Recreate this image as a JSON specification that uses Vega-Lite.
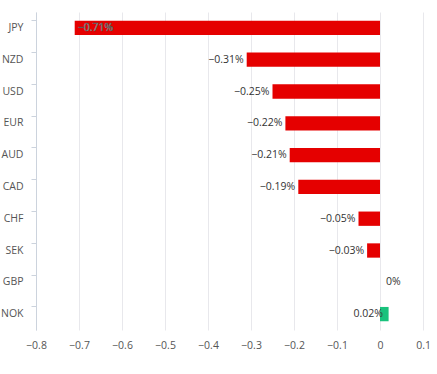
{
  "$schema": "https://vega.github.io/schema/vega-lite/v6.json",
  "autosize": {"type": "none"},
  "width": 387,
  "height": 318,
  "padding": {"left": 36, "top": 12, "right": 14, "bottom": 44},
  "config": {
    "font": "Open Sans",
    "view": {"stroke": null},
    "axis": {"labelFont": "Open Sans", "labelColor": "#555", "labelFontSize": 10.5}
  },
  "data": {
    "values": [
      {"currency": "JPY", "value": -0.71, "label": "−0.71%"},
      {"currency": "NZD", "value": -0.31, "label": "−0.31%"},
      {"currency": "USD", "value": -0.25, "label": "−0.25%"},
      {"currency": "EUR", "value": -0.22, "label": "−0.22%"},
      {"currency": "AUD", "value": -0.21, "label": "−0.21%"},
      {"currency": "CAD", "value": -0.19, "label": "−0.19%"},
      {"currency": "CHF", "value": -0.05, "label": "−0.05%"},
      {"currency": "SEK", "value": -0.03, "label": "−0.03%"},
      {"currency": "GBP", "value": 0, "label": "0%"},
      {"currency": "NOK", "value": 0.02, "label": "0.02%"}
    ]
  },
  "encoding": {
    "y": {
      "field": "currency", "type": "nominal", "title": null,
      "sort": ["JPY","NZD","USD","EUR","AUD","CAD","CHF","SEK","GBP","NOK"],
      "scale": {"paddingInner": 0.55, "paddingOuter": 0.275},
      "axis": {"domainColor": "#ccd3dd", "tickColor": "#ccd3dd", "tickSize": 5, "bandPosition": 0, "labelPadding": 8, "grid": false}
    }
  },
  "layer": [
    {
      "mark": {"type": "bar"},
      "encoding": {
        "x": {
          "field": "value", "type": "quantitative", "title": null,
          "scale": {"domain": [-0.8, 0.1], "nice": false, "zero": false},
          "axis": {"values": [-0.8,-0.7,-0.6,-0.5,-0.4,-0.3,-0.2,-0.1,0,0.1], "domain": false, "ticks": false, "labelFlush": false, "labelPadding": 10, "gridColor": "#e8e8ec", "format": "~g"}
        },
        "color": {
          "condition": {"test": "datum.value < 0", "value": "#e50000"},
          "value": "#19c27c"
        }
      }
    },
    {
      "transform": [{"filter": "datum.value < 0 && datum.value > -0.5"}],
      "mark": {"type": "text", "align": "right", "dx": -3, "fontSize": 10.5, "color": "#333"},
      "encoding": {"x": {"field": "value", "type": "quantitative"}, "text": {"field": "label"}}
    },
    {
      "transform": [{"filter": "datum.value <= -0.5"}],
      "mark": {"type": "text", "align": "left", "dx": 3, "fontSize": 10.5, "color": "#ffffff", "stroke": "#444", "strokeWidth": 0.5},
      "encoding": {"x": {"field": "value", "type": "quantitative"}, "text": {"field": "label"}}
    },
    {
      "transform": [{"filter": "datum.value == 0"}],
      "mark": {"type": "text", "align": "left", "dx": 6, "fontSize": 10.5, "color": "#333"},
      "encoding": {"x": {"field": "value", "type": "quantitative"}, "text": {"field": "label"}}
    },
    {
      "transform": [{"filter": "datum.value > 0"}],
      "mark": {"type": "text", "align": "right", "dx": 3, "fontSize": 10.5, "color": "#333"},
      "encoding": {"x": {"datum": 0, "type": "quantitative"}, "text": {"field": "label"}}
    }
  ]
}
